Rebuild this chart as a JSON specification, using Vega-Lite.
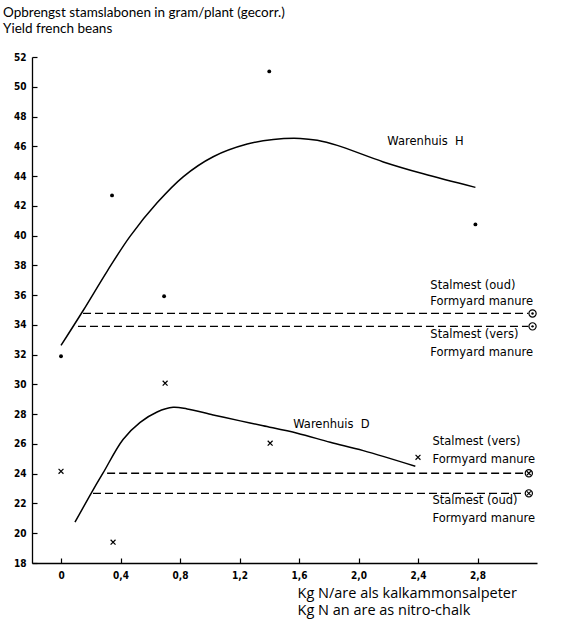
{
  "$schema": "https://vega.github.io/schema/vega-lite/v6.json",
  "width": 505,
  "height": 506,
  "autosize": "none",
  "padding": {"left": 32, "top": 57, "right": 27, "bottom": 58},
  "background": "white",
  "config": {"view": {"stroke": null}},
  "title": {
    "text": ["Opbrengst stamslabonen in gram/plant (gecorr.)", "Yield french beans"],
    "anchor": "start",
    "frame": "group",
    "font": "Lato",
    "fontSize": 13.5,
    "fontWeight": "normal",
    "color": "black",
    "lineHeight": 16,
    "dx": -29,
    "offset": 17
  },
  "datasets": {
    "hcurve": [
      {"x": 0.0, "y": 32.62}, {"x": 0.148, "y": 34.95}, {"x": 0.31, "y": 37.6}, {"x": 0.464, "y": 39.95},
      {"x": 0.646, "y": 42.2}, {"x": 0.821, "y": 43.95}, {"x": 1.023, "y": 45.3}, {"x": 1.252, "y": 46.15},
      {"x": 1.427, "y": 46.46}, {"x": 1.608, "y": 46.53}, {"x": 1.723, "y": 46.4}, {"x": 1.857, "y": 46.06},
      {"x": 2.167, "y": 44.95}, {"x": 2.436, "y": 44.15}, {"x": 2.786, "y": 43.24}
    ],
    "dcurve": [
      {"x": 0.094, "y": 20.74}, {"x": 0.215, "y": 22.9}, {"x": 0.283, "y": 24.05}, {"x": 0.417, "y": 26.3},
      {"x": 0.532, "y": 27.45}, {"x": 0.646, "y": 28.15}, {"x": 0.754, "y": 28.46}, {"x": 0.848, "y": 28.35},
      {"x": 1.023, "y": 27.95}, {"x": 1.205, "y": 27.55}, {"x": 1.359, "y": 27.22}, {"x": 1.588, "y": 26.72},
      {"x": 1.81, "y": 26.11}, {"x": 2.032, "y": 25.55}, {"x": 2.382, "y": 24.5}
    ],
    "hdots": [
      {"x": 0.0, "y": 31.89}, {"x": 0.343, "y": 42.7}, {"x": 0.693, "y": 35.92}, {"x": 1.4, "y": 51.03}, {"x": 2.786, "y": 40.75}
    ],
    "dcross": [
      {"x": 0.0, "y": 24.16}, {"x": 0.35, "y": 19.4}, {"x": 0.7, "y": 30.08}, {"x": 1.406, "y": 26.05}, {"x": 2.4, "y": 25.1}
    ],
    "manure": [
      {"series": "H oud", "x": 0.148, "y": 34.77}, {"series": "H oud", "x": 3.142, "y": 34.77},
      {"series": "H vers", "x": 0.114, "y": 33.9}, {"series": "H vers", "x": 3.142, "y": 33.9},
      {"series": "D vers", "x": 0.31, "y": 24.03}, {"series": "D vers", "x": 3.115, "y": 24.03},
      {"series": "D oud", "x": 0.215, "y": 22.68}, {"series": "D oud", "x": 3.115, "y": 22.68}
    ],
    "hend": [{"x": 3.17, "y": 34.77}, {"x": 3.17, "y": 33.9}],
    "dend": [{"x": 3.145, "y": 24.03}, {"x": 3.145, "y": 22.68}],
    "labels": [
      {"x": 2.194, "y": 46.32, "text": "Warenhuis\u00a0\u00a0H"},
      {"x": 1.561, "y": 27.25, "text": "Warenhuis\u00a0\u00a0D"},
      {"x": 2.483, "y": 36.6, "text": "Stalmest (oud)"},
      {"x": 2.483, "y": 35.55, "text": "Formyard manure"},
      {"x": 2.483, "y": 33.35, "text": "Stalmest (vers)"},
      {"x": 2.483, "y": 32.1, "text": "Formyard manure"},
      {"x": 2.497, "y": 26.1, "text": "Stalmest (vers)"},
      {"x": 2.497, "y": 24.95, "text": "Formyard manure"},
      {"x": 2.497, "y": 22.15, "text": "Stalmest (oud)"},
      {"x": 2.497, "y": 20.95, "text": "Formyard manure"}
    ]
  },
  "encoding": {
    "x": {
      "field": "x",
      "type": "quantitative",
      "scale": {"domain": [-0.195, 3.2], "nice": false, "zero": false},
      "axis": {
        "values": [0, 0.4, 0.8, 1.2, 1.6, 2.0, 2.4, 2.8],
        "labelExpr": "datum.value == 0 ? '0' : replace(format(datum.value, '.1f'), '.', ',')",
        "grid": false,
        "domainColor": "black",
        "domainWidth": 1.3,
        "tickColor": "black",
        "tickSize": -5,
        "tickWidth": 1.2,
        "labelPadding": 12,
        "labelFont": "DejaVu Sans Condensed",
        "labelFontWeight": "bold",
        "labelFontSize": 10,
        "labelColor": "black",
        "title": ["Kg N/are als kalkammonsalpeter", "Kg N an are as nitro-chalk"],
        "titleFont": "Open Sans",
        "titleFontSize": 14.5,
        "titleFontWeight": "normal",
        "titleColor": "black",
        "titleAlign": "left",
        "titleAnchor": "start",
        "titleBaseline": "top",
        "titleX": 265,
        "titleY": 23,
        "titleLineHeight": 17.5
      }
    },
    "y": {
      "field": "y",
      "type": "quantitative",
      "scale": {"domain": [18, 52], "nice": false, "zero": false},
      "axis": {
        "values": [18, 20, 22, 24, 26, 28, 30, 32, 34, 36, 38, 40, 42, 44, 46, 48, 50, 52],
        "format": "d",
        "grid": false,
        "domainColor": "black",
        "domainWidth": 1.3,
        "tickColor": "black",
        "tickSize": -5,
        "tickWidth": 1.2,
        "labelPadding": 11,
        "labelFont": "DejaVu Sans Condensed",
        "labelFontWeight": "bold",
        "labelFontSize": 10,
        "labelColor": "black",
        "title": null
      }
    }
  },
  "layer": [
    {"data": {"name": "hcurve"}, "mark": {"type": "line", "color": "black", "strokeWidth": 1.5, "interpolate": "catmull-rom"}},
    {"data": {"name": "dcurve"}, "mark": {"type": "line", "color": "black", "strokeWidth": 1.5, "interpolate": "catmull-rom"}},
    {"data": {"name": "manure"}, "mark": {"type": "line", "color": "black", "strokeWidth": 1.4, "strokeDash": [8, 4]}, "encoding": {"detail": {"field": "series"}}},
    {"data": {"name": "hdots"}, "mark": {"type": "point", "shape": "circle", "filled": true, "color": "black", "size": 15, "opacity": 1}},
    {"data": {"name": "dcross"}, "mark": {"type": "point", "shape": "M-1,-1L1,1M-1,1L1,-1", "filled": false, "color": "black", "size": 24, "strokeWidth": 1.2, "opacity": 1}},
    {"data": {"name": "hend"}, "mark": {"type": "point", "shape": "circle", "filled": false, "color": "black", "size": 52, "strokeWidth": 1.2, "opacity": 1}},
    {"data": {"name": "hend"}, "mark": {"type": "point", "shape": "circle", "filled": true, "color": "black", "size": 6, "opacity": 1}},
    {"data": {"name": "dend"}, "mark": {"type": "point", "shape": "circle", "filled": false, "color": "black", "size": 52, "strokeWidth": 1.2, "opacity": 1}},
    {"data": {"name": "dend"}, "mark": {"type": "point", "shape": "M-1,-1L1,1M-1,1L1,-1", "filled": false, "color": "black", "size": 16, "strokeWidth": 1.1, "opacity": 1}},
    {"data": {"name": "labels"}, "mark": {"type": "text", "align": "left", "baseline": "middle", "font": "DejaVu Sans", "fontSize": 11.5, "color": "black"}, "encoding": {"text": {"field": "text"}}}
  ]
}
